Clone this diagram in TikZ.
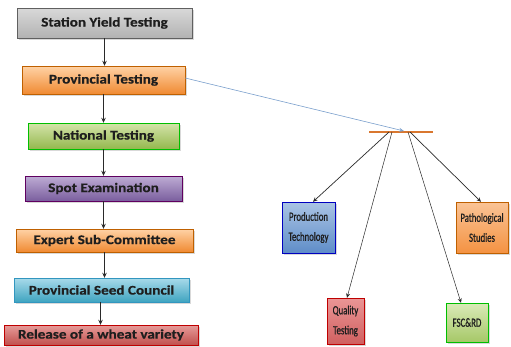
\documentclass[tikz,border=0pt]{standalone}
\usepackage{fontspec}
\setmainfont{Carlito}
\newfontfamily\lfont[FakeStretch=1.15, BoldFeatures={FakeBold=0.5}]{Carlito}
\newfontfamily\rfont[FakeStretch=0.7, FakeBold=0.9]{Carlito}
\usetikzlibrary{arrows.meta,shadows}
\definecolor{txt}{HTML}{1E1E1E}
\definecolor{barcol}{HTML}{D9772F}
\definecolor{bluel}{HTML}{7A9FCC}
\definecolor{arrcol}{HTML}{2A2A2A}
\tikzset{
  box/.style={rectangle, inner sep=0pt, text=txt, draw=#1!75!black, line width=0.4pt,
    drop shadow={shadow xshift=1.5pt, shadow yshift=-1.5pt, opacity=0.3}},
  lbox/.style={box=#1, font=\lfont\bfseries\fontsize{13.2}{15}\selectfont},
  rbox/.style={box=#1, align=center, font=\rfont\fontsize{12.5}{20}\selectfont},
  grayg/.style={top color=gray!30, bottom color=gray!140!black},
  orangeg/.style={top color=orange!35!white, bottom color={rgb,255:red,240;green,138;blue,50}},
  greeng/.style={top color={rgb,255:red,212;green,228;blue,170}, bottom color={rgb,255:red,148;green,184;blue,78}},
  purpleg/.style={top color={rgb,255:red,190;green,172;blue,212}, bottom color={rgb,255:red,122;green,94;blue,158}},
  aquag/.style={top color={rgb,255:red,168;green,218;blue,234}, bottom color={rgb,255:red,63;green,164;blue,192}},
  redg/.style={top color={rgb,255:red,230;green,156;blue,154}, bottom color={rgb,255:red,192;green,80;blue,77}},
  blueg/.style={top color={rgb,255:red,170;green,196;blue,228}, bottom color={rgb,255:red,95;green,141;blue,200}},
  rorangeg/.style={top color={rgb,255:red,250;green,196;blue,150}, bottom color={rgb,255:red,244;green,146;blue,66}},
  rredg/.style={top color={rgb,255:red,234;green,150;blue,150}, bottom color={rgb,255:red,208;green,96;blue,96}},
  rgreeng/.style={top color={rgb,255:red,218;green,234;blue,184}, bottom color={rgb,255:red,166;green,200;blue,104}},
  arr/.style={draw=arrcol, line width=0.8pt, -{Stealth[length=5pt,width=4.5pt]}},
  arrs/.style={draw=arrcol, line width=0.7pt, -{Stealth[length=4.5pt,width=4pt]}},
  blueline/.style={draw=bluel, line width=0.6pt, -{Stealth[length=5pt,width=4pt,open]}},
  barline/.style={draw=barcol, line width=2pt}
}
\begin{document}
\begin{tikzpicture}[x=1pt,y=-1pt]
\useasboundingbox (0,0) rectangle (511,346);
% left column
\node[lbox=gray, grayg, minimum width=175pt, minimum height=30pt] (st) at (104.5,23) {Station Yield Testing};
\node[lbox=orange, orangeg, minimum width=163pt, minimum height=28pt] (pt) at (103.5,80) {Provincial Testing};
\node[lbox=green, greeng, minimum width=151pt, minimum height=26pt] (nt) at (103.5,136) {National Testing};
\node[lbox=violet, purpleg, minimum width=157pt, minimum height=25pt] (se) at (103.5,188.5) {Spot Examination};
\node[lbox=orange, orangeg, minimum width=177pt, minimum height=23pt] (ex) at (104.5,240.5) {Expert Sub-Committee};
\node[lbox=cyan, aquag, minimum width=175pt, minimum height=24pt] (sc) at (101.5,290) {Provincial Seed Council};
\node[lbox=red, redg, minimum width=194pt, minimum height=20pt] (rl) at (101,335) {Release of a wheat variety};
\draw[arr] (st.south) -- (st.south |- pt.north);
\draw[arr] (pt.south) -- (pt.south |- nt.north);
\draw[arr] (nt.south) -- (nt.south |- se.north);
\draw[arr] (se.south) -- (se.south |- ex.north);
\draw[arr] (ex.south) -- (ex.south |- sc.north);
\draw[arr] ([xshift=-1pt]sc.south) -- ([xshift=-1pt]sc.south |- rl.north);
% right part
\node[rbox=blue, blueg, minimum width=53pt, minimum height=51pt] (pr) at (308.5,227.5) {Production\\Technology};
\node[rbox=orange, rorangeg, minimum width=52pt, minimum height=51pt] (pa) at (482,227.5) {Pathological\\Studies};
\node[rbox=red, rredg, minimum width=37pt, minimum height=46pt] (qt) at (345.5,321) {Quality\\Testing};
\node[rbox=green, rgreeng, minimum width=42pt, minimum height=39pt] (fs) at (467,322.5) {FSC\&RD};
\coordinate (barL) at (369,132);
\coordinate (barR) at (433,132);
\coordinate (bhit) at (404,131);
\coordinate (b1) at (389,132);
\coordinate (b2) at (392,132);
\coordinate (b3) at (408,132);
\coordinate (b4) at (410,132);
\draw[barline] (barL) -- (barR);
\draw[blueline] ([yshift=2pt]pt.east) -- (bhit);
\draw[arrs] (b1) -- ([xshift=4.5pt]pr.north);
\draw[arrs, line width=0.5pt] (b2) -- ([xshift=1.5pt]qt.north);
\draw[arrs, line width=0.5pt] (b3) -- ([xshift=-6pt]fs.north);
\draw[arrs] (b4) -- ([xshift=-1pt]pa.north);
\end{tikzpicture}
\end{document}
